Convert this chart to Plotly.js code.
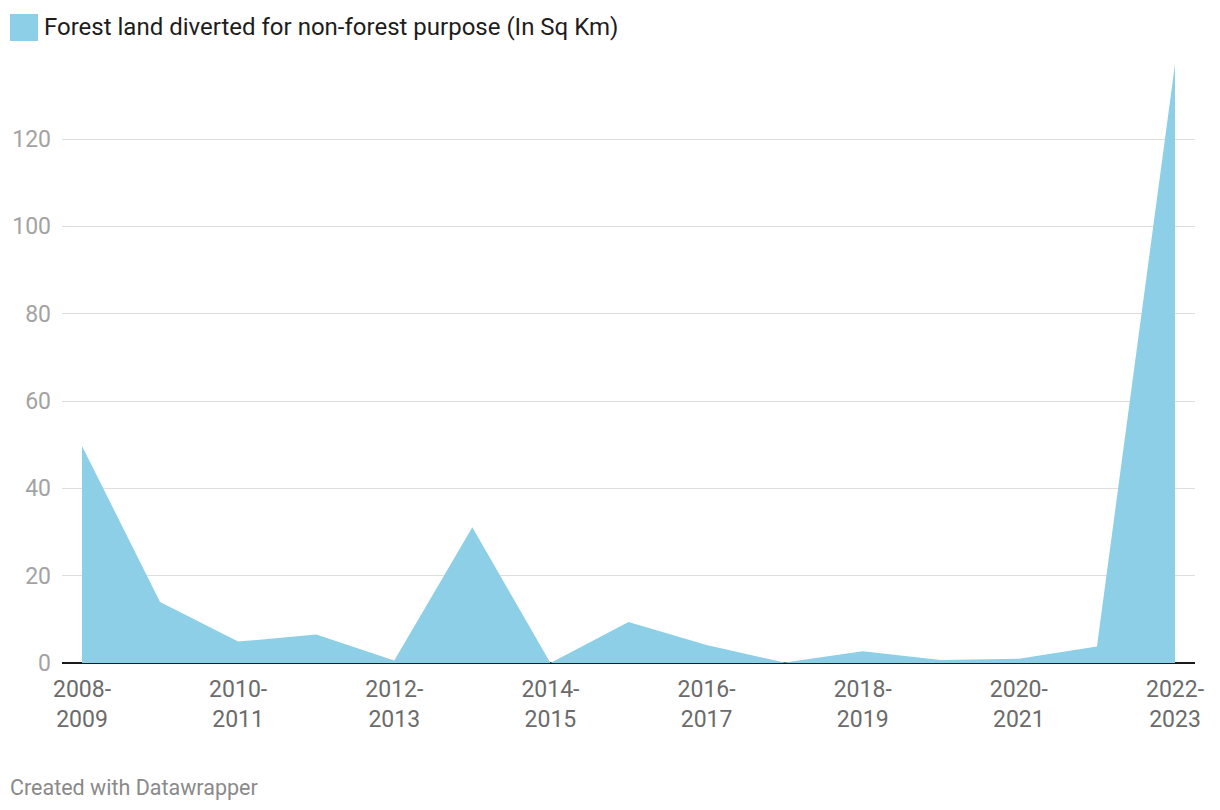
<!DOCTYPE html>
<html>
<head>
<meta charset="utf-8">
<script src="https://cdn.plot.ly/plotly-3.0.1.min.js"></script>
<style>
  body { margin: 0; background: #fff; }
  #chart { width: 1220px; height: 810px; }
</style>
</head>
<body>
<div id="chart"></div>
<script>
// Data
var years = ['2008-2009', '2009-2010', '2010-2011', '2011-2012', '2012-2013',
  '2013-2014', '2014-2015', '2015-2016', '2016-2017', '2017-2018',
  '2018-2019', '2019-2020', '2020-2021', '2021-2022', '2022-2023'];
var diverted = [49.7, 14.0, 4.9, 6.5, 0.6, 31.1, 0, 9.4, 4.1, 0.1, 2.7, 0.7, 1.0, 3.8, 137.2];
var yTicks = [0, 20, 40, 60, 80, 100, 120];
var xTickYears = ['2008-2009', '2010-2011', '2012-2013', '2014-2015', '2016-2017',
  '2018-2019', '2020-2021', '2022-2023'];
var seriesName = 'Forest land diverted for non-forest purpose (In Sq Km)';

var trace = {
  x: years,
  y: diverted,
  type: 'scatter',
  mode: 'none',
  fill: 'tozeroy',
  fillcolor: '#8dcfe6',
  hoverinfo: 'x+y',
  showlegend: false
};

var layout = {
  width: 1220,
  height: 810,
  margin: { l: 62, r: 25, t: 64, b: 147 },
  paper_bgcolor: '#fff',
  plot_bgcolor: '#fff',
  font: { family: 'Roboto, sans-serif', size: 23, color: '#666' },
  xaxis: {
    type: 'category',
    range: [-0.256, 14.256],
    tickvals: xTickYears,
    ticktext: xTickYears.map(function (s) { return s.replace('-', '-<br>'); }),
    tickfont: { size: 23, color: '#6b6b6b' },
    showgrid: false,
    zeroline: false,
    showline: false,
    ticks: '',
    ticklabelstandoff: 10
  },
  yaxis: {
    range: [0, 137.2],
    tickvals: yTicks,
    tickfont: { size: 23, color: '#a3a3a3' },
    showgrid: true,
    gridcolor: 'rgba(0,0,0,0.13)',
    gridwidth: 1,
    zeroline: true,
    zerolinecolor: '#1a1a1a',
    zerolinewidth: 2,
    showline: false,
    ticks: '',
    ticklabelstandoff: 10,
    layer: 'above traces'
  },
  shapes: [{
    type: 'rect',
    xref: 'paper', yref: 'paper',
    x0: (10 - 62) / 1133, x1: (38 - 62) / 1133,
    y0: (663 - 41) / 599, y1: (663 - 14) / 599,
    fillcolor: '#8dcfe6',
    line: { width: 0 }
  }],
  annotations: [{
    text: seriesName,
    xref: 'paper', yref: 'paper',
    x: (42 - 62) / 1133, y: (663 - 27) / 599,
    xanchor: 'left', yanchor: 'middle',
    showarrow: false,
    font: { size: 24, color: '#1d1d1d' }
  }, {
    text: 'Created with Datawrapper',
    xref: 'paper', yref: 'paper',
    x: (8 - 62) / 1133, y: (663 - 787) / 599,
    xanchor: 'left', yanchor: 'middle',
    showarrow: false,
    font: { size: 21.5, color: '#8a8a8a' }
  }]
};

Plotly.newPlot('chart', [trace], layout, { displayModeBar: false, staticPlot: true });
</script>
</body>
</html>
